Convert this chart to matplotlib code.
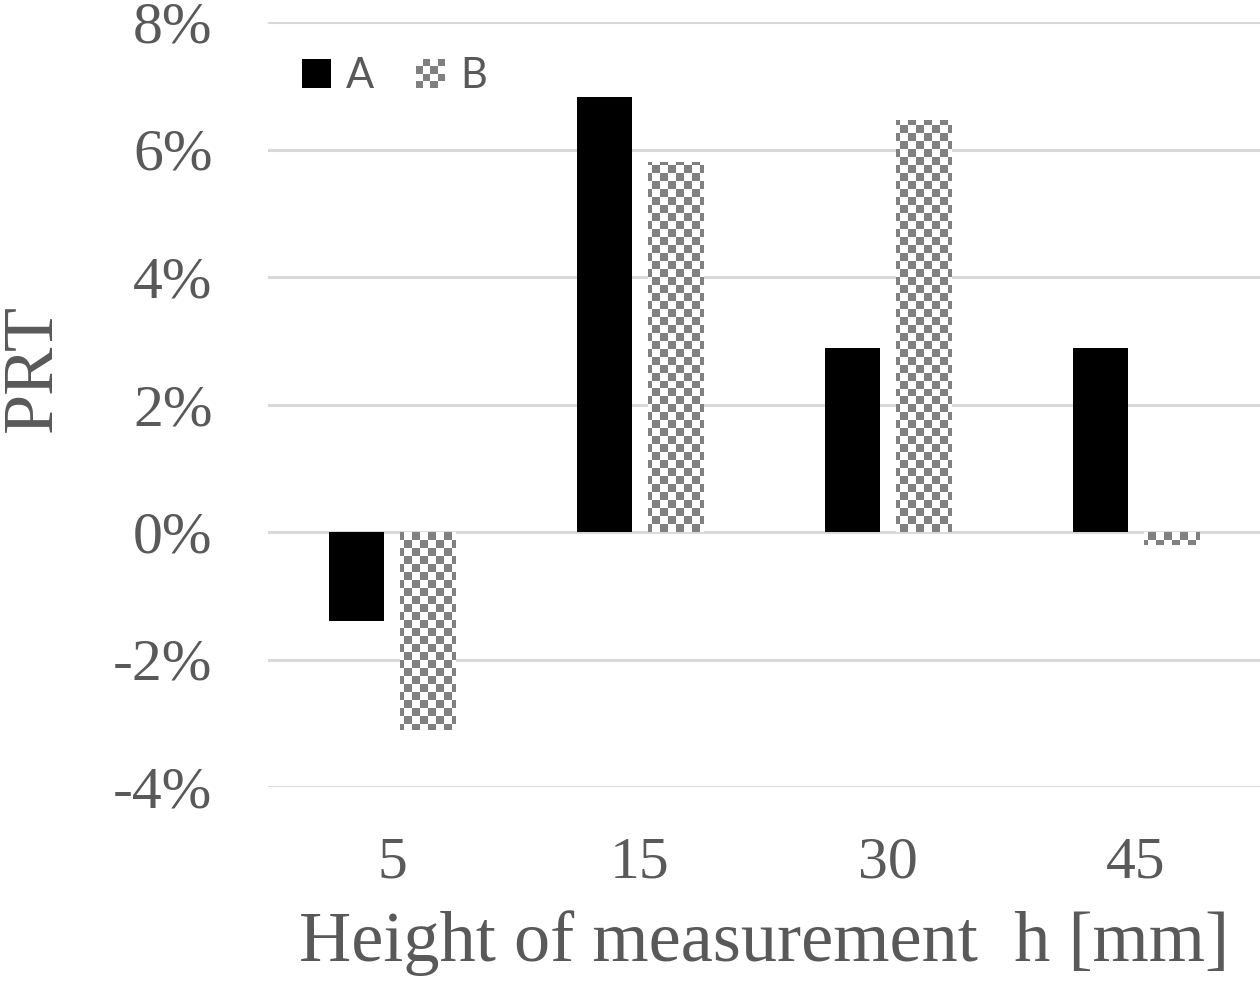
import matplotlib
matplotlib.use("Agg")
import matplotlib.pyplot as plt
from matplotlib.patches import Rectangle
from matplotlib.legend_handler import HandlerBase
from matplotlib.colors import ListedColormap
import numpy as np

# data (percent)
heights = ["5", "15", "30", "45"]
series_a = [-1.4, 6.82, 2.89, 2.89]
series_b = [-3.1, 5.8, 6.46, -0.2]
y_ticks = [-4, -2, 0, 2, 4, 6, 8]

GRAY_TXT = "#595959"
CHECK = "#808080"
SERIF = "Liberation Serif"


class CheckerHandler(HandlerBase):
    """Legend swatch drawn as a small checkerboard."""
    def create_artists(self, legend, orig_handle, xdescent, ydescent,
                       width, height, fontsize, trans):
        n = 4
        s = min(width, height)
        x0 = -xdescent + (width - s) / 2
        y0 = -ydescent + (height - s) / 2
        c = s / n
        arts = []
        for i in range(n):
            for j in range(n):
                if (i + j) % 2 == 0:
                    arts.append(Rectangle((x0 + i * c, y0 + j * c), c, c,
                                          facecolor=CHECK, edgecolor="none",
                                          transform=trans))
        return arts


class SquareHandler(HandlerBase):
    def create_artists(self, legend, orig_handle, xdescent, ydescent,
                       width, height, fontsize, trans):
        s = min(width, height)
        x0 = -xdescent + (width - s) / 2
        y0 = -ydescent + (height - s) / 2
        return [Rectangle((x0, y0), s, s, facecolor="black",
                          edgecolor="none", transform=trans)]


fig = plt.figure(figsize=(12.6, 9.82), dpi=100)
ax = fig.add_axes([268 / 1260, 195 / 982, 992 / 1260, 765 / 982])

x = np.arange(len(heights))
w = 0.222
off = 0.145
xlim = (-0.5, 3.5)
ylim = (-4, 8)

ax.bar(x - off, series_a, w, color="black", zorder=3)
bars_b = ax.bar(x + off, series_b, w, facecolor="none", linewidth=0, zorder=3)

# checkerboard fill for series B, clipped to each bar
rows, cols = 96, 124
board = (np.add.outer(np.arange(rows), np.arange(cols)) % 2).astype(float)
cmap = ListedColormap(["white", CHECK])
for bar in bars_b:
    im = ax.imshow(board, cmap=cmap, extent=(*xlim, *ylim), aspect="auto",
                   interpolation="nearest", origin="lower", zorder=3)
    im.set_clip_path(bar)

ax.set_xlim(*xlim)
ax.set_ylim(*ylim)
ax.set_yticks(y_ticks)
ax.set_yticklabels([f"{v}%" for v in y_ticks])
ax.set_xticks(x)
ax.set_xticklabels(heights)
ax.grid(axis="y", color="#d9d9d9", linewidth=2.2, zorder=0)
ax.set_axisbelow(True)
for sp in ax.spines.values():
    sp.set_visible(False)
ax.tick_params(length=0, labelsize=43, labelcolor=GRAY_TXT)
ax.tick_params(axis="y", pad=40)
ax.tick_params(axis="x", pad=36)
for lab in ax.get_xticklabels() + ax.get_yticklabels():
    lab.set_fontfamily(SERIF)

ax.set_xlabel("Height of measurement  h [mm]", fontsize=52, color=GRAY_TXT,
              fontfamily=SERIF, labelpad=14)
ax.set_ylabel("PRT", fontsize=52, color=GRAY_TXT, fontfamily=SERIF)
ax.yaxis.set_label_coords(-202 / 992, 0.548)

ha = Rectangle((0, 0), 1, 1)
hb = Rectangle((0, 0), 1, 1)
leg = ax.legend([ha, hb], ["A", "B"], loc="upper left", ncol=2, frameon=False,
                bbox_to_anchor=(0.034, 0.954), borderpad=0, borderaxespad=0,
                handler_map={ha: SquareHandler(), hb: CheckerHandler()},
                prop={"family": "Lato", "size": 30}, handlelength=0.7,
                handleheight=0.7, handletextpad=0.36, columnspacing=1.0)
for t in leg.get_texts():
    t.set_color(GRAY_TXT)

fig.savefig("out.png", dpi=100)
